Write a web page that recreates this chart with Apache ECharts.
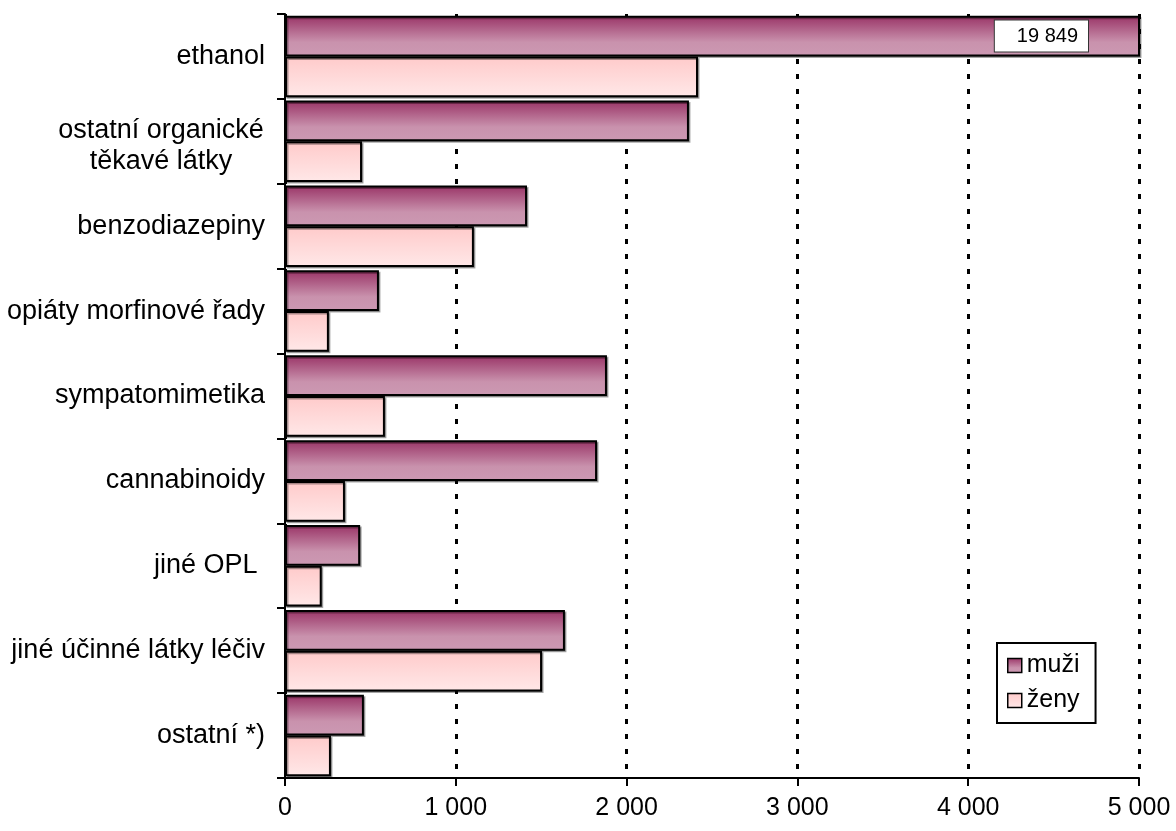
<!DOCTYPE html>
<html>
<head>
<meta charset="utf-8">
<script src="https://cdn.jsdelivr.net/npm/echarts@6/dist/echarts.min.js"></script>
<style>
  html, body { margin: 0; padding: 0; background: #fff; }
  #chart { width: 1176px; height: 831px; }
</style>
</head>
<body>
<div id="chart"></div>
<script>
// Categories, top to bottom
const categories = [
  'ethanol',
  'ostatní organické\ntěkavé látky',
  'benzodiazepiny',
  'opiáty morfinové řady',
  'sympatomimetika',
  'cannabinoidy',
  'jiné OPL ',
  'jiné účinné látky léčiv',
  'ostatní *)'
];
const seriesNames = ['muži', 'ženy'];
const muzi = [19849, 2365, 1417, 550, 1885, 1827, 440, 1639, 462];
const zeny = [2418, 451, 1106, 257, 585, 351, 215, 1505, 269];
const xTicks = [0, 1000, 2000, 3000, 4000, 5000];

const FONT = '"Liberation Sans", Arial, sans-serif';
const AXIS_MAX = xTicks[xTicks.length - 1];
const CAT_FONT = 27;

function fmt(v) {
  return String(Math.round(v)).replace(/\B(?=(\d{3})+(?!\d))/g, ' ');
}

const gradMuzi = new echarts.graphic.LinearGradient(0, 0, 0, 1, [
  { offset: 0, color: '#993366' },
  { offset: 0.65, color: '#c992ad' },
  { offset: 1, color: '#cc99b3' }
]);
const gradZeny = new echarts.graphic.LinearGradient(0, 0, 0, 1, [
  { offset: 0, color: '#ffcaca' },
  { offset: 1, color: '#ffe8e8' }
]);

const barStyle = (fill) => ({
  color: fill,
  borderColor: '#000',
  borderWidth: 2,
  shadowColor: 'rgba(0,0,0,0.35)',
  shadowOffsetX: 1.5,
  shadowOffsetY: 1.5,
  shadowBlur: 0
});

// A bar running past the axis end is cut at the edge and carries its value in a box
const overflowLabel = {
  show: true,
  position: 'insideRight',
  distance: 52,
  formatter: (p) => fmt(p.value),
  fontFamily: FONT,
  fontSize: 20,
  color: '#000',
  backgroundColor: '#fff',
  borderColor: '#333',
  borderWidth: 1,
  padding: [6, 10, 5, 22]
};
const muziData = muzi.map(v => (v > AXIS_MAX ? { value: v, label: overflowLabel } : v));

const chart = echarts.init(document.getElementById('chart'), null, { renderer: 'canvas' });

chart.setOption({
  animation: false,
  backgroundColor: '#fff',
  textStyle: { fontFamily: FONT, color: '#000' },
  grid: { left: 285, right: 37, top: 14, bottom: 53, containLabel: false },
  legend: {
    orient: 'vertical',
    left: 997,
    top: 643,
    padding: [10, 16, 10, 10],
    itemGap: 10,
    itemWidth: 14,
    itemHeight: 14,
    icon: 'rect',
    borderColor: '#000',
    borderWidth: 2,
    backgroundColor: '#fff',
    itemStyle: { borderColor: '#000', borderWidth: 1.5, shadowBlur: 0, shadowOffsetX: 0, shadowOffsetY: 0 },
    textStyle: { fontFamily: FONT, fontSize: 25, color: '#000' },
    data: seriesNames
  },
  xAxis: {
    type: 'value',
    min: 0,
    max: AXIS_MAX,
    interval: 1000,
    axisLine: { show: true, lineStyle: { color: '#000', width: 2 } },
    axisTick: { show: true, length: 8, lineStyle: { color: '#000', width: 2 } },
    axisLabel: {
      fontFamily: FONT, fontSize: 25, color: '#000', margin: 18,
      formatter: (v) => fmt(v)
    },
    splitLine: {
      show: true,
      lineStyle: { color: '#000', width: 3, type: [5, 10] }
    }
  },
  yAxis: {
    type: 'category',
    inverse: true,
    data: categories,
    axisLine: { show: true, lineStyle: { color: '#000', width: 2 } },
    axisTick: { show: true, length: 8, alignWithLabel: false, lineStyle: { color: '#000', width: 2 } },
    axisLabel: {
      fontFamily: FONT, fontSize: CAT_FONT, color: '#000', margin: 20,
      lineHeight: 31,
      formatter: (v) => v.indexOf('\n') >= 0
        ? v.split('\n').map(s => '{c|' + s + '}').join('\n')
        : v,
      rich: {
        c: { fontFamily: FONT, fontSize: CAT_FONT, color: '#000', width: 208, align: 'center', lineHeight: 31, padding: [10, 0, 0, 0] }
      }
    },
    splitLine: { show: false }
  },
  series: [
    {
      name: seriesNames[0],
      type: 'bar',
      data: muziData,
      barGap: '0%',
      barCategoryGap: '4%',
      clip: true,
      itemStyle: barStyle(gradMuzi),
      z: 3
    },
    {
      name: seriesNames[1],
      type: 'bar',
      data: zeny,
      barGap: '0%',
      barCategoryGap: '4%',
      clip: true,
      itemStyle: barStyle(gradZeny),
      z: 3
    }
  ]
});
</script>
</body>
</html>
